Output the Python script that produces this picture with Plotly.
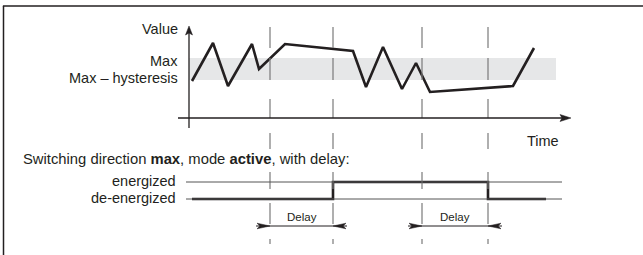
import plotly.graph_objects as go

W, H = 643, 255

# ---- data (time axis units, value axis units; value axis points downward) ----
signal_t = [192, 213, 228, 252, 259, 285, 353, 366, 383, 402, 416, 430, 513, 534]
signal_v = [81, 43, 86, 44, 69, 44, 51, 87, 47, 89, 63, 92, 86, 48]

band_t = [189, 556]
level_max = 58
level_max_hyst = 80

switch_times = [270, 333, 422, 488]
dash_segments = [(27, 48), (58, 80), (99, 118), (133, 149), (172, 189), (203, 224), (239, 244)]

axis_origin_t = 189
axis_origin_v = 118
axis_t_range = [178, 571]
axis_v_range = [128, 26]

relay_t = [192, 333, 333, 488, 488, 546]
level_energized = 182
level_deenergized = 199
relay_v = [level_deenergized, level_deenergized, level_energized, level_energized,
           level_deenergized, level_deenergized]
level_line_t = [186, 562]

delay_spans = [(270, 333), (422, 488)]
delay_arrow_v = 226
delay_label = "Delay"

INK = "#231f20"
GRAY = "#7a7a7a"
FONT = "Liberation Sans, Arial, sans-serif"

fig = go.Figure()

shapes = []
# frame
shapes.append(dict(type="line", xref="paper", yref="paper", x0=0.0045, x1=1, y0=1 - 6 / H, y1=1 - 6 / H,
                   line=dict(color=INK, width=1.5)))
shapes.append(dict(type="line", xref="paper", yref="paper", x0=3.5 / W, x1=3.5 / W, y0=0, y1=1 - 6 / H,
                   line=dict(color=INK, width=1.5)))
# hysteresis band
shapes.append(dict(type="rect", xref="x", yref="y", x0=band_t[0], x1=band_t[1], y0=level_max, y1=level_max_hyst,
                   fillcolor="#e6e7e8", line=dict(width=0), layer="below"))
# dashed switching lines
for t in switch_times:
    for a, b in dash_segments:
        shapes.append(dict(type="line", xref="x", yref="y", x0=t, x1=t, y0=a, y1=b,
                           line=dict(color=GRAY, width=1.2)))
# axes lines
shapes.append(dict(type="line", xref="x", yref="y", x0=axis_t_range[0], x1=axis_t_range[1] - 6,
                   y0=axis_origin_v, y1=axis_origin_v, line=dict(color=INK, width=1.3)))
shapes.append(dict(type="line", xref="x", yref="y", x0=axis_origin_t, x1=axis_origin_t,
                   y0=axis_v_range[0], y1=axis_v_range[1] + 6, line=dict(color=INK, width=1.3)))
# relay level lines
for lv in (level_energized, level_deenergized):
    shapes.append(dict(type="line", xref="x", yref="y", x0=level_line_t[0], x1=level_line_t[1], y0=lv, y1=lv,
                       line=dict(color="#555555", width=1)))
# delay arrows shafts
for a, b in delay_spans:
    shapes.append(dict(type="line", xref="x", yref="y", x0=a - 14, x1=b + 14, y0=delay_arrow_v, y1=delay_arrow_v,
                       line=dict(color=INK, width=1)))


def arrowhead(tx, ty, dx, dy, length, half, notch):
    bx, by = tx - dx * length, ty - dy * length
    px, py = -dy, dx
    nx, ny = tx - dx * (length - notch), ty - dy * (length - notch)
    return dict(type="path", xref="x", yref="y",
                path=f"M{tx},{ty} L{bx + px * half},{by + py * half} L{nx},{ny} L{bx - px * half},{by - py * half} Z",
                fillcolor=INK, line=dict(color=INK, width=0.5))


shapes.append(arrowhead(axis_t_range[1], axis_origin_v, 1, 0, 11, 3.5, 2))
shapes.append(arrowhead(axis_origin_t, axis_v_range[1], 0, -1, 9, 3.5, 2))
for a, b in delay_spans:
    shapes.append(arrowhead(a, delay_arrow_v, 1, 0, 13, 2.8, 3))
    shapes.append(arrowhead(b, delay_arrow_v, -1, 0, 13, 2.8, 3))

# signal
fig.add_trace(go.Scatter(x=signal_t, y=signal_v, mode="lines",
                         line=dict(color=INK, width=2.6), hoverinfo="skip"))
# relay state
fig.add_trace(go.Scatter(x=relay_t, y=relay_v, mode="lines",
                         line=dict(color=INK, width=2.6), hoverinfo="skip"))

ann = []
def txt(x, y, s, anchor, size=14.5, xref="x"):
    ann.append(dict(x=x, y=y, xref=xref, yref="y", text=s, showarrow=False, xanchor=anchor, yanchor="middle",
                    font=dict(family=FONT, size=size, color=INK)))

txt(180, 29, "Value", "right")
txt(180, 61, "Max", "right")
txt(180, 78, "Max – hysteresis", "right")
txt(525, 141, "Time", "left")
txt(21, 159, "Switching direction <b>max</b>, mode <b>active</b>, with delay:", "left", size=14.8)
txt(178, 181, "energized", "right")
txt(178, 198, "de-energized", "right")
for a, b in delay_spans:
    txt((a + b) / 2, 217, delay_label, "center", size=11.5)

fig.update_layout(
    width=W, height=H, margin=dict(l=0, r=0, t=0, b=0),
    paper_bgcolor="white", plot_bgcolor="white", showlegend=False,
    xaxis=dict(range=[0, W], visible=False, fixedrange=True),
    yaxis=dict(range=[H, 0], visible=False, fixedrange=True),
    shapes=shapes, annotations=ann,
)

fig.write_html("out.html", config={"displayModeBar": False},
               post_script="document.body.style.margin='0';document.body.style.overflow='hidden';")
